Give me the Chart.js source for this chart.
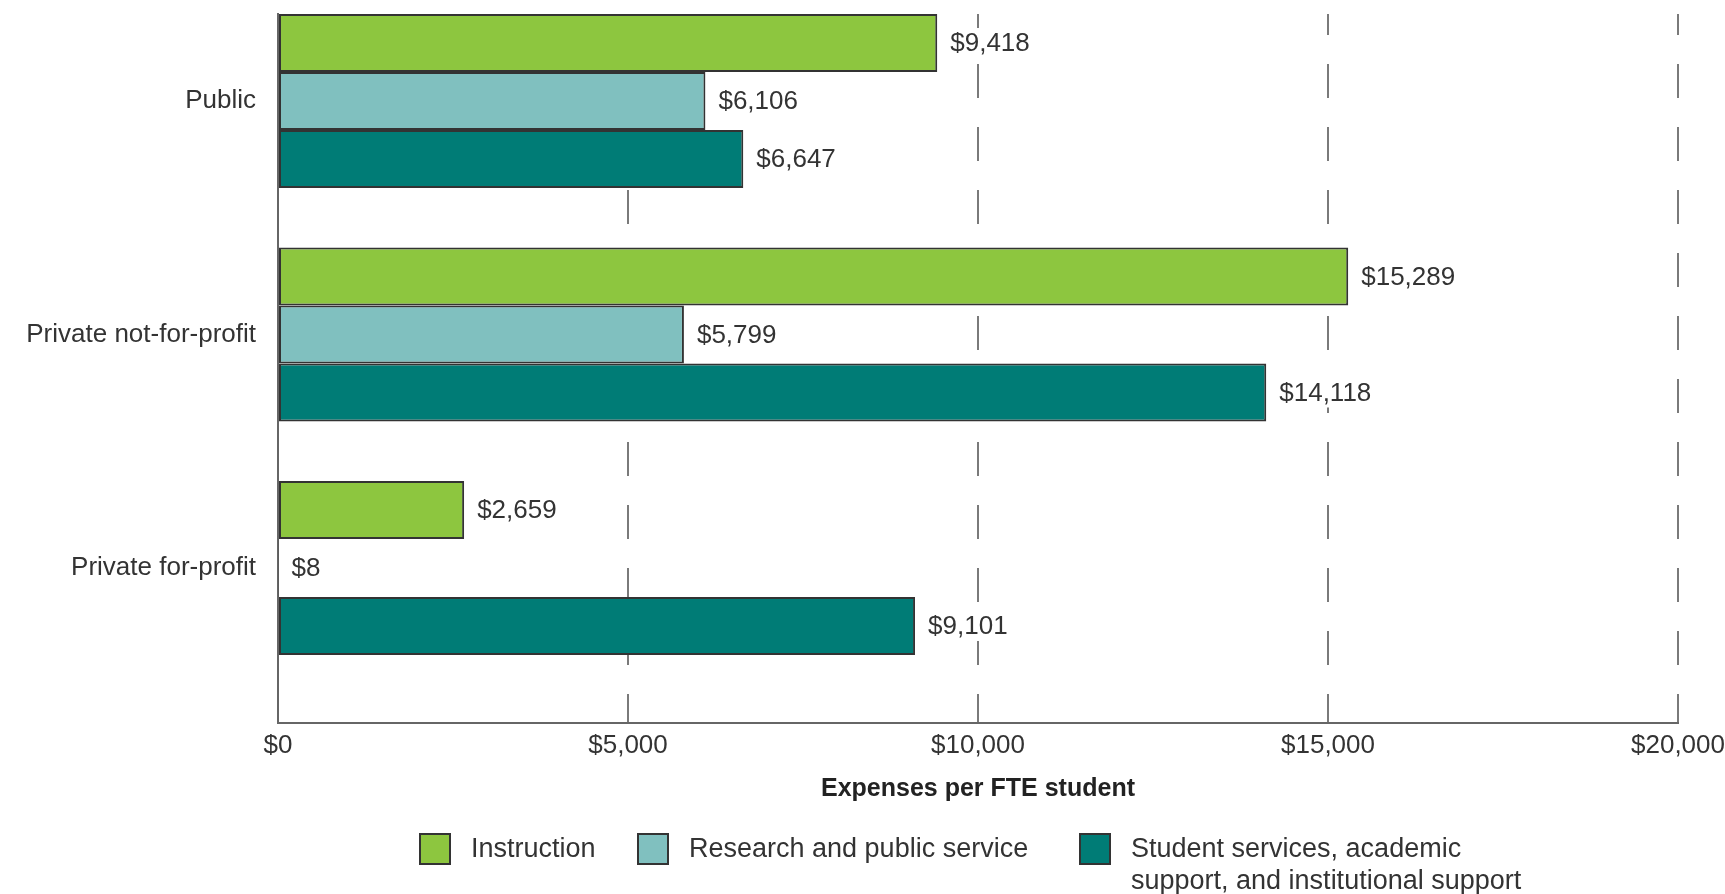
<!DOCTYPE html>
<html>
<head>
<meta charset="utf-8">
<script src="https://cdn.jsdelivr.net/npm/chart.js@4/dist/chart.umd.min.js"></script>
<style>
  html, body { margin: 0; padding: 0; background: #fff; }
  #wrap { position: relative; width: 1725px; height: 894px; }
  #legend { position: absolute; left: 419px; top: 833px; display: flex;
            font: 27px "Liberation Sans", Arial, sans-serif; color: #333; }
  .item { display: flex; align-items: flex-start; }
  .box { width: 28px; height: 28px; border: 2px solid #333; margin-right: 20px; flex: none; }
  .lbl { line-height: 32px; margin-top: -1px; white-space: nowrap; }
</style>
</head>
<body>
<div id="wrap">
  <canvas id="myChart" width="1725" height="894"></canvas>
  <div id="legend"></div>
</div>
<script>
var categories = ['Public', 'Private not-for-profit', 'Private for-profit'];
var instruction = [9418, 15289, 2659];
var research = [6106, 5799, 8];
var support = [6647, 14118, 9101];
var seriesNames = ['Instruction', 'Research and public service',
                   ['Student services, academic', 'support, and institutional support']];
var seriesColors = ['#8dc63f', '#80c0bf', '#007c76'];
var xTicks = [0, 5000, 10000, 15000, 20000];

var font = '"Liberation Sans", Arial, sans-serif';

function money(v) {
    return '$' + v.toLocaleString('en-US');
}

function makeSet(idx, values) {
    return {
        label: Array.isArray(seriesNames[idx]) ? seriesNames[idx].join(' ') : seriesNames[idx],
        data: values.map(function (v, i) { return { x: v, y: i }; }),
        backgroundColor: seriesColors[idx],
        borderColor: '#333',
        borderWidth: 2,
        borderSkipped: false,
        categoryPercentage: 0.745,
        barPercentage: 1
    };
}

// dollar amount next to the end of every bar, on a white patch
var valueLabels = {
    id: 'valueLabels',
    afterDatasetsDraw: function (chart) {
        var ctx = chart.ctx;
        ctx.save();
        ctx.font = '26px ' + font;
        ctx.textBaseline = 'middle';
        chart.data.datasets.forEach(function (ds, d) {
            chart.getDatasetMeta(d).data.forEach(function (bar, i) {
                var txt = money(ds.data[i].x);
                var w = ctx.measureText(txt).width;
                var x = bar.x + 13;
                ctx.fillStyle = '#fff';
                ctx.fillRect(x - 3, bar.y - 15, w + 6, 30);
                ctx.fillStyle = '#333';
                ctx.fillText(txt, x, bar.y + 1);
            });
        });
        ctx.restore();
    }
};

var ctx = document.getElementById('myChart');
var myChart = new Chart(ctx, {
    type: 'bar',
    data: {
        datasets: [makeSet(0, instruction), makeSet(1, research), makeSet(2, support)]
    },
    options: {
        indexAxis: 'y',
        responsive: false,
        animation: false,
        layout: { padding: { top: 14, right: 47, left: 0, bottom: 0 } },
        plugins: {
            legend: { display: false },
            tooltip: { enabled: false }
        },
        scales: {
            x: {
                type: 'linear',
                min: xTicks[0],
                max: xTicks[xTicks.length - 1],
                afterBuildTicks: function (scale) {
                    scale.ticks = xTicks.map(function (v) { return { value: v }; });
                },
                afterFit: function (scale) {
                    scale.height = 171;
                    scale.paddingRight = 0;
                },
                ticks: {
                    callback: function (v) { return money(v); },
                    font: { family: font, size: 26 },
                    color: '#333',
                    padding: 7,
                    maxRotation: 0
                },
                grid: {
                    drawTicks: false,
                    lineWidth: 2,
                    color: function (c) {
                        return c.tick && c.tick.value === 0 ? 'rgba(0,0,0,0)' : '#7a7a7a';
                    }
                },
                border: { color: '#666', width: 2, dash: [34, 29], dashOffset: 13 },
                title: {
                    display: true,
                    text: 'Expenses per FTE student',
                    font: { family: font, size: 25, weight: 'bold' },
                    color: '#222',
                    padding: { top: 0, bottom: 90 }
                }
            },
            y: {
                type: 'linear',
                offset: false,
                reverse: true,
                min: -0.3726,
                max: 2.6638,
                afterBuildTicks: function (scale) {
                    scale.ticks = categories.map(function (c, i) { return { value: i }; });
                },
                afterFit: function (scale) {
                    scale.width = 278;
                    scale.paddingTop = 0;
                    scale.paddingBottom = 0;
                },
                ticks: {
                    callback: function (v) { return categories[v]; },
                    font: { family: font, size: 26 },
                    color: '#333',
                    padding: 22
                },
                grid: { display: false, drawTicks: false, offset: false },
                border: { color: '#666', width: 2 }
            }
        }
    },
    plugins: [valueLabels]
});

// legend under the axis title
var legendWidths = [218, 442, 0];
var legend = document.getElementById('legend');
myChart.data.datasets.forEach(function (ds, i) {
    var item = document.createElement('div');
    item.className = 'item';
    if (legendWidths[i]) item.style.width = legendWidths[i] + 'px';
    var box = document.createElement('div');
    box.className = 'box';
    box.style.background = ds.backgroundColor;
    var lbl = document.createElement('div');
    lbl.className = 'lbl';
    lbl.innerHTML = Array.isArray(seriesNames[i]) ? seriesNames[i].join('<br>') : seriesNames[i];
    item.appendChild(box);
    item.appendChild(lbl);
    legend.appendChild(item);
});
</script>
</body>
</html>
